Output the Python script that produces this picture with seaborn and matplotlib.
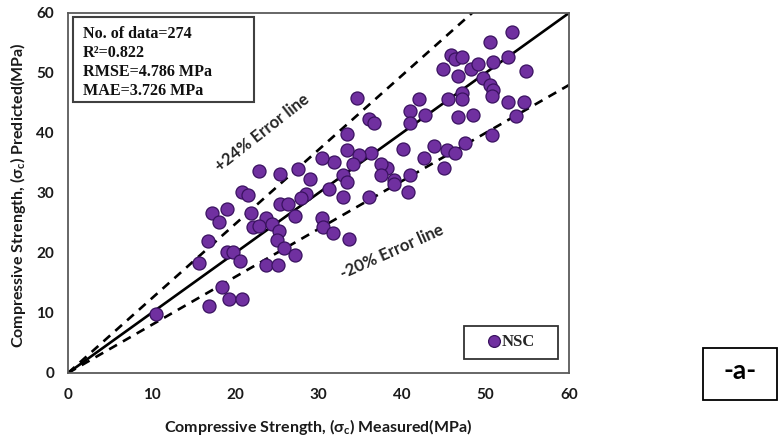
import matplotlib
matplotlib.use("Agg")
import matplotlib.pyplot as plt
from matplotlib.patches import Rectangle
from matplotlib.lines import Line2D
import numpy as np
import pandas as pd
import seaborn as sns

# Measured vs. predicted compressive strength (MPa)
measured = [
    53.2, 50.5, 45.9, 46.3, 47.2, 44.9, 46.7, 48.3, 49.1, 50.9,
    52.7, 54.9, 49.7, 50.5, 50.9, 50.8, 52.7, 54.6, 53.6, 47.2,
    47.2, 45.5, 46.7, 48.5, 50.8, 47.6, 45.4, 46.4, 43.8, 45.0,
    42.6, 42.0, 40.9, 42.7, 41.0, 40.1, 41.0, 40.7, 39.1, 39.1,
    38.2, 37.5, 37.5, 36.3, 34.9, 34.1, 33.4, 33.4, 36.0, 36.7,
    34.6, 31.9, 30.4, 32.9, 33.4, 29.0, 31.2, 28.5, 32.9, 36.0,
    30.4, 30.5, 31.7, 33.6,
    22.9, 25.4, 27.5, 20.8, 21.6, 27.9, 17.2, 19.1, 18.1, 21.9,
    25.4, 26.3, 27.2, 23.7, 22.1, 22.9, 24.4, 25.3, 16.8, 19.0,
    19.8, 25.0, 25.9, 27.2, 20.6, 15.7, 23.7, 25.1,
    10.5, 16.9, 18.5, 19.3, 20.8,
]
predicted = [
    56.9, 55.2, 53.0, 52.3, 52.7, 50.6, 49.5, 50.6, 51.5, 51.9,
    52.6, 50.4, 49.1, 48.0, 47.2, 46.2, 45.1, 45.1, 42.8, 46.6,
    45.6, 45.7, 42.6, 43.0, 39.7, 38.4, 37.1, 36.7, 37.9, 34.2,
    35.9, 45.7, 43.7, 43.0, 41.7, 37.3, 33.0, 30.1, 32.2, 31.5,
    34.1, 34.9, 33.0, 36.7, 36.4, 34.8, 39.9, 37.1, 42.4, 41.6,
    45.8, 35.2, 35.9, 33.0, 31.9, 32.3, 30.6, 29.9, 29.3, 29.4,
    25.8, 24.3, 23.4, 22.4,
    33.6, 33.2, 34.0, 30.1, 29.7, 29.2, 26.6, 27.4, 25.1, 26.6,
    28.1, 28.2, 26.2, 25.9, 24.3, 24.5, 24.9, 23.7, 22.0, 20.1,
    20.2, 22.1, 20.9, 19.7, 18.7, 18.3, 18.0, 18.0,
    9.8, 11.1, 14.4, 12.3, 12.3,
]
series_name = "NSC"
stats_lines = ["No. of data=274", "R\u00b2=0.822", "RMSE=4.786 MPa", "MAE=3.726 MPa"]
upper_error = 0.24
lower_error = -0.20
axis_ticks = [0, 10, 20, 30, 40, 50, 60]
x_title = "Compressive Strength, (\u03c3${}_{\\mathregular{c}}$) Measured(MPa)"
y_title = "Compressive Strength, (\u03c3${}_{\\mathregular{c}}$) Predicted(MPa)"
panel_tag = "-a-"

sns.set_theme(style="white")
plt.rcParams["font.family"] = ["Lato", "DejaVu Sans"]
plt.rcParams["mathtext.fontset"] = "custom"
plt.rcParams["mathtext.rm"] = "Lato:bold"
plt.rcParams["mathtext.it"] = "Lato:bold"
plt.rcParams["mathtext.bf"] = "Lato:bold"

purple = "#7030A0"
purple_edge = "#3A1260"
frame_grey = "#5a5a5a"
serif_bold = dict(family=["Liberation Serif", "DejaVu Serif"], weight="bold")

fig = plt.figure(figsize=(7.78, 4.43), dpi=100)
ax = fig.add_axes([68 / 778, 70 / 443, 501 / 778, 360 / 443])

df = pd.DataFrame({"Measured": measured, "Predicted": predicted})

# Reference lines: perfect agreement and the two error bounds
lo, hi = axis_ticks[0], axis_ticks[-1]
line_x = np.array([lo, hi], dtype=float)
sns.lineplot(x=line_x, y=line_x, ax=ax, color="black", linewidth=1.9, zorder=2)
sns.lineplot(x=line_x, y=line_x * (1 + upper_error), ax=ax, color="black",
             linewidth=1.9, linestyle=(0, (3.4, 2.6)), zorder=2)
sns.lineplot(x=line_x, y=line_x * (1 + lower_error), ax=ax, color="black",
             linewidth=1.9, linestyle=(0, (3.4, 2.6)), zorder=2)

sns.scatterplot(data=df, x="Measured", y="Predicted", ax=ax, color=purple,
                edgecolor=purple_edge, linewidth=0.9, s=88, zorder=3,
                legend=False)

ax.set_xlim(lo, hi)
ax.set_ylim(lo, hi)
ax.set_xticks(axis_ticks)
ax.set_yticks(axis_ticks)
ax.tick_params(axis="both", direction="in", length=4, width=1, color=frame_grey,
               labelsize=11, labelcolor="#1a1a1a")
ax.tick_params(axis="x", pad=11)
ax.tick_params(axis="y", pad=10)
for lab in ax.get_xticklabels() + ax.get_yticklabels():
    lab.set_fontweight("bold")
for sp in ax.spines.values():
    sp.set_color(frame_grey)
    sp.set_linewidth(1.3)

ax.set_xlabel(x_title, fontsize=11.5, fontweight="bold", color="#1a1a1a")
ax.set_ylabel(y_title, fontsize=11.5, fontweight="bold", color="#1a1a1a")
ax.xaxis.set_label_coords(0.5, -0.15)
ax.xaxis.label.set_va("center")
ax.yaxis.set_label_coords(-0.1, 0.494)
ax.yaxis.label.set_va("center")

# Error line captions
ax.text(23.2, 40.0, "+24% Error line", rotation=38, ha="center", va="center",
        fontsize=12, fontweight="bold", color="#262626", zorder=4)
ax.text(38.8, 20.2, "-20% Error line", rotation=24, ha="center", va="center",
        fontsize=12, fontweight="bold", color="#262626", zorder=4)

# Statistics box
ax.add_patch(Rectangle((0.01, 0.7528), 0.3613, 0.2361, transform=ax.transAxes,
                       fill=True, facecolor="white", edgecolor="#404040",
                       linewidth=1.5, zorder=5))
for i, line in enumerate(stats_lines):
    ax.text(0.03, 0.9417 - i * 0.0528, line, transform=ax.transAxes,
            ha="left", va="center", fontsize=11.6, color="#111111", zorder=6,
            **serif_bold)

# Legend box
lx0, ly0, lw_, lh_ = 0.7904, 0.0389, 0.1876, 0.0917
ax.add_patch(Rectangle((lx0, ly0), lw_, lh_, transform=ax.transAxes,
                       fill=True, facecolor="white", edgecolor="#333333",
                       linewidth=1.3, zorder=5))
handle = Line2D([], [], marker="o", linestyle="none", markersize=8.5,
                markerfacecolor=purple, markeredgecolor=purple_edge,
                markeredgewidth=0.9)
leg = ax.legend([handle], [series_name], loc="center",
                bbox_to_anchor=(lx0 + lw_ / 2, ly0 + lh_ / 2),
                frameon=False, handlelength=0.8, handletextpad=0.1,
                borderpad=0, borderaxespad=0,
                prop=dict(family="Liberation Serif", weight="bold", size=12))
leg.set_zorder(6)

# Panel tag
fig.add_artist(Rectangle((703 / 778, 43 / 443), 74 / 778, 52 / 443,
                         transform=fig.transFigure, fill=False,
                         edgecolor="black", linewidth=1.3))
fig.text(740 / 778, 72 / 443, panel_tag, ha="center", va="center",
         fontsize=19, fontweight="bold", color="black")

fig.savefig("out.png", dpi=100)
